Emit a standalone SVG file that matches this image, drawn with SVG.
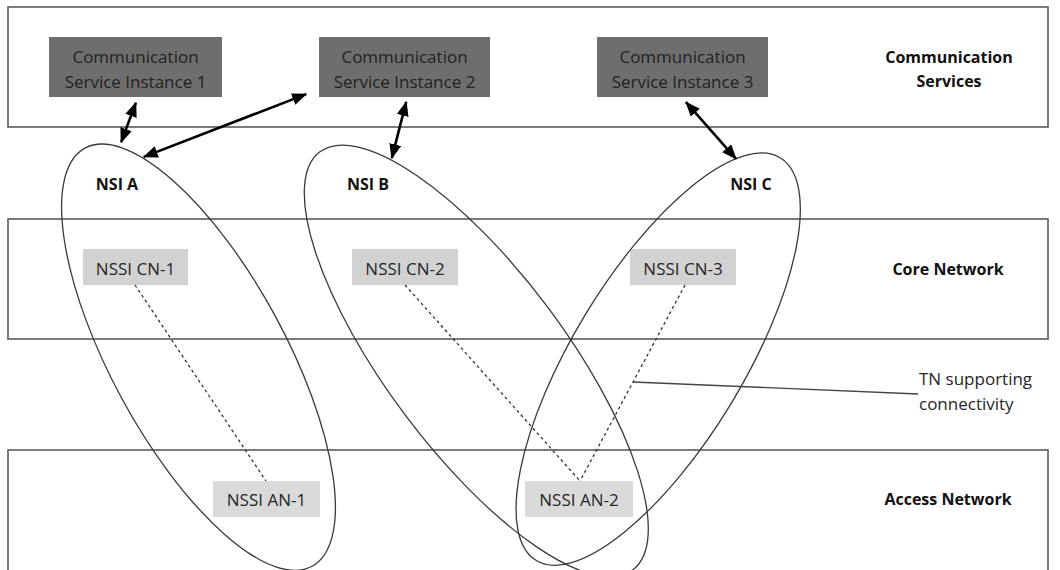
<svg xmlns="http://www.w3.org/2000/svg" width="1060" height="570" viewBox="0 0 1060 570">
<defs>
<style>
.band{fill:#fff;stroke:#505050;stroke-width:1.5}
.csi{fill:#6e6e6e}
.cn{fill:#d2d2d2}
.an{fill:#dadada}
.t{font-family:"Open Sans","Noto Sans",sans-serif;font-size:17px;fill:#262626;text-anchor:middle}
.w{fill:#222}
.b{font-family:"Open Sans","Noto Sans",sans-serif;font-size:16px;font-weight:bold;fill:#111;text-anchor:middle}
.ell{fill:none;stroke:#3a3a3a;stroke-width:1.3}
.dash{fill:none;stroke:#333;stroke-width:1.3;stroke-dasharray:3,3}
.arr{fill:none;stroke:#000;stroke-width:2.6;marker-start:url(#ah);marker-end:url(#ah)}
</style>
<marker id="ah" markerUnits="userSpaceOnUse" markerWidth="15" markerHeight="12" refX="14" refY="6" orient="auto-start-reverse">
<path d="M0,0 L15,6 L0,12 z" fill="#000"/>
</marker>
</defs>
<g id="bands">
<rect class="band" x="8" y="7" width="1040" height="120"/>
<rect class="band" x="8" y="219" width="1040" height="120"/>
<rect class="band" x="8" y="450" width="1040" height="130"/>
</g>
<g id="layer-labels">
<text class="b" x="949" y="63">Communication</text>
<text class="b" x="949" y="87">Services</text>
<text class="b" x="948" y="275">Core Network</text>
<text class="b" x="948" y="505">Access Network</text>
</g>
<g id="csi1"><rect class="csi" x="49" y="37" width="173" height="60"/><text class="t w" x="135.5" y="63">Communication</text><text class="t w" x="135.5" y="88">Service Instance 1</text></g>
<g id="csi2"><rect class="csi" x="319" y="37" width="171" height="60"/><text class="t w" x="404.5" y="63">Communication</text><text class="t w" x="404.5" y="88">Service Instance 2</text></g>
<g id="csi3"><rect class="csi" x="597" y="37" width="171" height="60"/><text class="t w" x="682.5" y="63">Communication</text><text class="t w" x="682.5" y="88">Service Instance 3</text></g>
<g id="nssi-cn-1"><rect class="cn" x="83" y="249" width="105" height="36"/><text class="t" x="135.5" y="275">NSSI CN-1</text></g>
<g id="nssi-cn-2"><rect class="cn" x="352" y="249" width="106" height="36"/><text class="t" x="405" y="275">NSSI CN-2</text></g>
<g id="nssi-cn-3"><rect class="cn" x="630" y="249" width="106" height="36"/><text class="t" x="683" y="275">NSSI CN-3</text></g>
<g id="nssi-an-1"><rect class="an" x="213" y="481" width="107" height="36"/><text class="t" x="266.5" y="506">NSSI AN-1</text></g>
<g id="nssi-an-2"><rect class="an" x="525" y="481" width="108" height="36"/><text class="t" x="579" y="506">NSSI AN-2</text></g>
<g id="nsi-a"><ellipse class="ell" cx="198.5" cy="357.2" rx="87.1" ry="237.9" transform="rotate(-28.5 198.5 357.2)"/><text class="b" x="117" y="190">NSI A</text></g>
<g id="nsi-b"><ellipse class="ell" cx="476.3" cy="360.9" rx="89.4" ry="261.1" transform="rotate(-36.8 476.3 360.9)"/><text class="b" x="368" y="190">NSI B</text></g>
<g id="nsi-c"><ellipse class="ell" cx="658.2" cy="359.1" rx="85.4" ry="235.4" transform="rotate(31.2 658.2 359.1)"/><text class="b" x="751" y="190">NSI C</text></g>
<g id="tn-label"><text class="t" x="919" y="385" style="text-anchor:start">TN supporting</text><text class="t" x="919" y="410" style="text-anchor:start">connectivity</text></g>
<g id="connectors">
<line class="dash" x1="135" y1="285" x2="266" y2="481"/>
<line class="dash" x1="405" y1="285" x2="580" y2="481"/>
<line class="dash" x1="685" y1="285" x2="580" y2="481"/>
<line x1="633" y1="382" x2="918" y2="394" stroke="#444" stroke-width="1.3"/>
<line class="arr" x1="135.9" y1="102.8" x2="121.1" y2="142.2"/>
<line class="arr" x1="306.2" y1="94.1" x2="143.8" y2="156.9"/>
<line class="arr" x1="406.2" y1="101.9" x2="391.8" y2="158.1"/>
<line class="arr" x1="686" y1="102.2" x2="736" y2="158.8"/>
</g>
</svg>
